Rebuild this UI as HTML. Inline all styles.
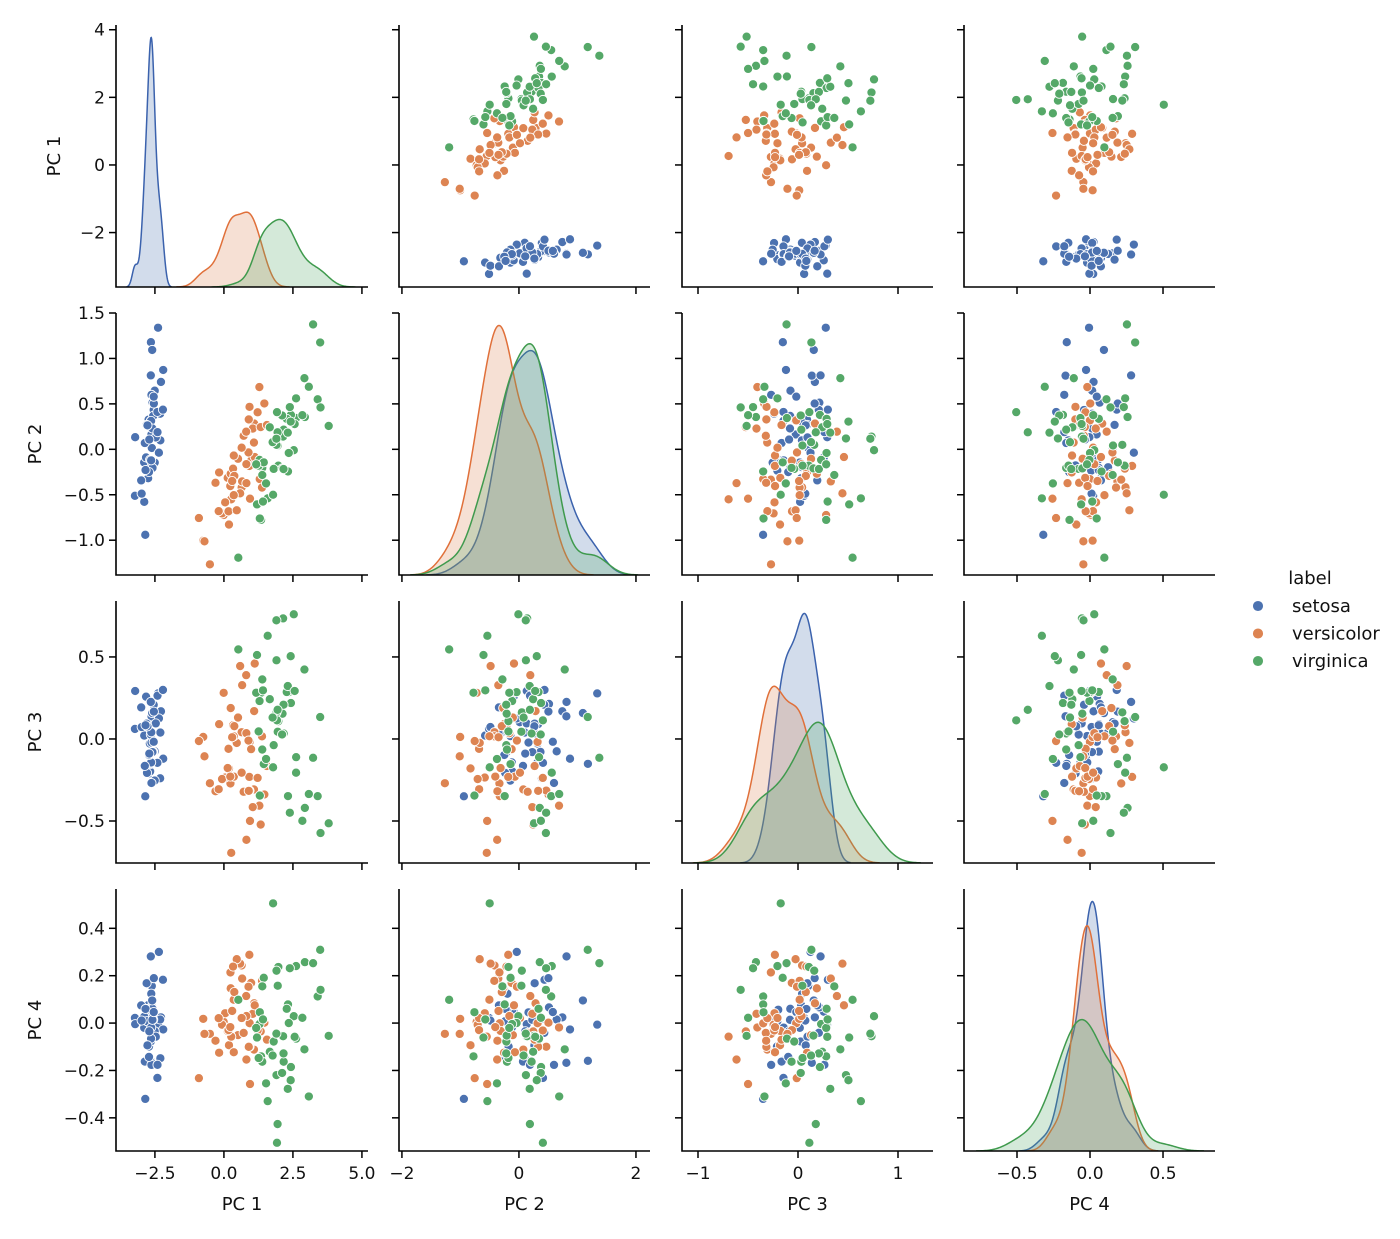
<!DOCTYPE html>
<html><head><meta charset="utf-8"><style>
html,body{margin:0;padding:0;background:#fff}
svg{display:block;font-family:"DejaVu Sans","Liberation Sans",sans-serif}
</style></head><body>
<svg id="fig" width="1400" height="1239" viewBox="0 0 1400 1239" xmlns="http://www.w3.org/2000/svg"></svg>
<script>
// ---- data: iris measurements (sepal length, sepal width, petal length, petal width) ----
const categories = ["setosa","versicolor","virginica"];
const setosaRows = [[5.1,3.5,1.4,0.2],[4.9,3.0,1.4,0.2],[4.7,3.2,1.3,0.2],[4.6,3.1,1.5,0.2],[5.0,3.6,1.4,0.2],[5.4,3.9,1.7,0.4],[4.6,3.4,1.4,0.3],[5.0,3.4,1.5,0.2],[4.4,2.9,1.4,0.2],[4.9,3.1,1.5,0.1],[5.4,3.7,1.5,0.2],[4.8,3.4,1.6,0.2],[4.8,3.0,1.4,0.1],[4.3,3.0,1.1,0.1],[5.8,4.0,1.2,0.2],[5.7,4.4,1.5,0.4],[5.4,3.9,1.3,0.4],[5.1,3.5,1.4,0.3],[5.7,3.8,1.7,0.3],[5.1,3.8,1.5,0.3],[5.4,3.4,1.7,0.2],[5.1,3.7,1.5,0.4],[4.6,3.6,1.0,0.2],[5.1,3.3,1.7,0.5],[4.8,3.4,1.9,0.2],[5.0,3.0,1.6,0.2],[5.0,3.4,1.6,0.4],[5.2,3.5,1.5,0.2],[5.2,3.4,1.4,0.2],[4.7,3.2,1.6,0.2],[4.8,3.1,1.6,0.2],[5.4,3.4,1.5,0.4],[5.2,4.1,1.5,0.1],[5.5,4.2,1.4,0.2],[4.9,3.1,1.5,0.2],[5.0,3.2,1.2,0.2],[5.5,3.5,1.3,0.2],[4.9,3.6,1.4,0.1],[4.4,3.0,1.3,0.2],[5.1,3.4,1.5,0.2],[5.0,3.5,1.3,0.3],[4.5,2.3,1.3,0.3],[4.4,3.2,1.3,0.2],[5.0,3.5,1.6,0.6],[5.1,3.8,1.9,0.4],[4.8,3.0,1.4,0.3],[5.1,3.8,1.6,0.2],[4.6,3.2,1.4,0.2],[5.3,3.7,1.5,0.2],[5.0,3.3,1.4,0.2]];
const versicolorRows = [[7.0,3.2,4.7,1.4],[6.4,3.2,4.5,1.5],[6.9,3.1,4.9,1.5],[5.5,2.3,4.0,1.3],[6.5,2.8,4.6,1.5],[5.7,2.8,4.5,1.3],[6.3,3.3,4.7,1.6],[4.9,2.4,3.3,1.0],[6.6,2.9,4.6,1.3],[5.2,2.7,3.9,1.4],[5.0,2.0,3.5,1.0],[5.9,3.0,4.2,1.5],[6.0,2.2,4.0,1.0],[6.1,2.9,4.7,1.4],[5.6,2.9,3.6,1.3],[6.7,3.1,4.4,1.4],[5.6,3.0,4.5,1.5],[5.8,2.7,4.1,1.0],[6.2,2.2,4.5,1.5],[5.6,2.5,3.9,1.1],[5.9,3.2,4.8,1.8],[6.1,2.8,4.0,1.3],[6.3,2.5,4.9,1.5],[6.1,2.8,4.7,1.2],[6.4,2.9,4.3,1.3],[6.6,3.0,4.4,1.4],[6.8,2.8,4.8,1.4],[6.7,3.0,5.0,1.7],[6.0,2.9,4.5,1.5],[5.7,2.6,3.5,1.0],[5.5,2.4,3.8,1.1],[5.5,2.4,3.7,1.0],[5.8,2.7,3.9,1.2],[6.0,2.7,5.1,1.6],[5.4,3.0,4.5,1.5],[6.0,3.4,4.5,1.6],[6.7,3.1,4.7,1.5],[6.3,2.3,4.4,1.3],[5.6,3.0,4.1,1.3],[5.5,2.5,4.0,1.3],[5.5,2.6,4.4,1.2],[6.1,3.0,4.6,1.4],[5.8,2.6,4.0,1.2],[5.0,2.3,3.3,1.0],[5.6,2.7,4.2,1.3],[5.7,3.0,4.2,1.2],[5.7,2.9,4.2,1.3],[6.2,2.9,4.3,1.3],[5.1,2.5,3.0,1.1],[5.7,2.8,4.1,1.3]];
const virginicaRows = [[6.3,3.3,6.0,2.5],[5.8,2.7,5.1,1.9],[7.1,3.0,5.9,2.1],[6.3,2.9,5.6,1.8],[6.5,3.0,5.8,2.2],[7.6,3.0,6.6,2.1],[4.9,2.5,4.5,1.7],[7.3,2.9,6.3,1.8],[6.7,2.5,5.8,1.8],[7.2,3.6,6.1,2.5],[6.5,3.2,5.1,2.0],[6.4,2.7,5.3,1.9],[6.8,3.0,5.5,2.1],[5.7,2.5,5.0,2.0],[5.8,2.8,5.1,2.4],[6.4,3.2,5.3,2.3],[6.5,3.0,5.5,1.8],[7.7,3.8,6.7,2.2],[7.7,2.6,6.9,2.3],[6.0,2.2,5.0,1.5],[6.9,3.2,5.7,2.3],[5.6,2.8,4.9,2.0],[7.7,2.8,6.7,2.0],[6.3,2.7,4.9,1.8],[6.7,3.3,5.7,2.1],[7.2,3.2,6.0,1.8],[6.2,2.8,4.8,1.8],[6.1,3.0,4.9,1.8],[6.4,2.8,5.6,2.1],[7.2,3.0,5.8,1.6],[7.4,2.8,6.1,1.9],[7.9,3.8,6.4,2.0],[6.4,2.8,5.6,2.2],[6.3,2.8,5.1,1.5],[6.1,2.6,5.6,1.4],[7.7,3.0,6.1,2.3],[6.3,3.4,5.6,2.4],[6.4,3.1,5.5,1.8],[6.0,3.0,4.8,1.8],[6.9,3.1,5.4,2.1],[6.7,3.1,5.6,2.4],[6.9,3.1,5.1,2.3],[5.8,2.7,5.1,1.9],[6.8,3.2,5.9,2.3],[6.7,3.3,5.7,2.5],[6.7,3.0,5.2,2.3],[6.3,2.5,5.0,1.9],[6.5,3.0,5.2,2.0],[6.2,3.4,5.4,2.3],[5.9,3.0,5.1,1.8]];
const varNames = ["PC 1","PC 2","PC 3","PC 4"];
const axisLimits = [[-3.91,5.22],[-2.05,2.24],[-1.16,1.35],[-0.863,0.856]];
const rowLimits = [[-3.61,4.14],[-1.383,1.5],[-0.756,0.841],[-0.540,0.566]];
const xTickValues = [[-2.5,0,2.5,5],[-2,0,2],[-1,0,1],[-0.5,0,0.5]];
const xTickLabels = [["−2.5","0.0","2.5","5.0"],["−2","0","2"],["−1","0","1"],["−0.5","0.0","0.5"]];
const yTickValues = [[-2,0,2,4],[-1,-0.5,0,0.5,1,1.5],[-0.5,0,0.5],[-0.4,-0.2,0,0.2,0.4]];
const yTickLabels = [["−2","0","2","4"],["−1.0","−0.5","0.0","0.5","1.0","1.5"],["−0.5","0.0","0.5"],["−0.4","−0.2","0.0","0.2","0.4"]];
const colors = ["#4c72b0","#dd8452","#55a868"];
const lineColors = ["#3b62ad","#e0703a","#3f9a4d"];

// ---- PCA ----
const groups=[setosaRows,versicolorRows,virginicaRows];
const all=[];groups.forEach((g,gi)=>g.forEach(r=>all.push({r,gi})));
const N=all.length;
const mean=[0,1,2,3].map(j=>all.reduce((s,o)=>s+o.r[j],0)/N);
const C=[0,1,2,3].map(a=>[0,1,2,3].map(b=>all.reduce((s,o)=>s+(o.r[a]-mean[a])*(o.r[b]-mean[b]),0)/(N-1)));
function jacobi(A){const n=A.length;let a=A.map(r=>r.slice());let V=[...Array(n)].map((_,i)=>[...Array(n)].map((_,j)=>i==j?1:0));
for(let sweep=0;sweep<100;sweep++){let off=0;for(let p=0;p<n;p++)for(let q=p+1;q<n;q++)off+=a[p][q]*a[p][q];if(off<1e-22)break;
for(let p=0;p<n;p++)for(let q=p+1;q<n;q++){if(Math.abs(a[p][q])<1e-15)continue;const th=(a[q][q]-a[p][p])/(2*a[p][q]);const t=Math.sign(th||1)/(Math.abs(th)+Math.sqrt(th*th+1));const c=1/Math.sqrt(t*t+1),s=t*c;
for(let k=0;k<n;k++){const akp=a[k][p],akq=a[k][q];a[k][p]=c*akp-s*akq;a[k][q]=s*akp+c*akq;}
for(let k=0;k<n;k++){const apk=a[p][k],aqk=a[q][k];a[p][k]=c*apk-s*aqk;a[q][k]=s*apk+c*aqk;}
for(let k=0;k<n;k++){const vkp=V[k][p],vkq=V[k][q];V[k][p]=c*vkp-s*vkq;V[k][q]=s*vkp+c*vkq;}}}
const ev=[...Array(n)].map((_,i)=>({val:a[i][i],vec:V.map(r=>r[i])}));ev.sort((x,y)=>y.val-x.val);return ev;}
const eig=jacobi(C);
const signRef=[1,1,-1,-1];
const comps=eig.map((e,i)=>{const v=e.vec;return Math.sign(v[0])===signRef[i]?v:v.map(x=>-x);});
const pts=all.map(o=>({gi:o.gi,pc:comps.map(v=>v.reduce((s,c,j)=>s+c*(o.r[j]-mean[j]),0))}));

// ---- drawing ----
const svg=document.getElementById('fig');const NS="http://www.w3.org/2000/svg";
function el(tag,attrs,parent){const e=document.createElementNS(NS,tag);for(const k in attrs)e.setAttribute(k,attrs[k]);(parent||svg).appendChild(e);return e;}
const colX=[[116,368],[399,650],[682,933],[964,1215]];
const rowY=[[25,287],[313,575],[601,863],[889,1151]];
function sx(c,v){const [a,b]=axisLimits[c];return colX[c][0]+(v-a)/(b-a)*(colX[c][1]-colX[c][0]);}
function sy(r,v){const [a,b]=rowLimits[r];return rowY[r][1]-(v-a)/(b-a)*(rowY[r][1]-rowY[r][0]);}
const defs=el('defs',{});
function kde(vals,bw,x){let s=0;for(const v of vals){const z=(x-v)/bw;s+=Math.exp(-0.5*z*z);}return s/(vals.length*bw*Math.sqrt(2*Math.PI));}

for(let r=0;r<4;r++)for(let c=0;c<4;c++){
  const g=el('g',{});
  
  
  const cp=el('clipPath',{id:`cp${r}${c}`},defs);
  el('rect',{x:colX[c][0],y:rowY[r][0]-1,width:colX[c][1]-colX[c][0],height:rowY[r][1]-rowY[r][0]+1},cp);
  const plot=el('g',{'clip-path':`url(#cp${r}${c})`},g);
  if(r===c){
    const dens=[];let ymax=0;
    groups.forEach((gr,gi)=>{
      const vals=pts.filter(p=>p.gi===gi).map(p=>p.pc[c]);
      const m=vals.reduce((a,b)=>a+b,0)/vals.length;
      const sd=Math.sqrt(vals.reduce((a,b)=>a+(b-m)*(b-m),0)/(vals.length-1));
      const bw=sd*Math.pow(vals.length,-0.2);
      const lo=Math.min(...vals)-3*bw,hi=Math.max(...vals)+3*bw;
      const xs=[],ys=[];
      for(let i=0;i<200;i++){const x=lo+(hi-lo)*i/199;xs.push(x);const y=kde(vals,bw,x)*vals.length/N;ys.push(y);if(y>ymax)ymax=y;}
      dens.push({gi,xs,ys});
    });
    const top=ymax*1.05;const y0=rowY[r][1],h=rowY[r][1]-rowY[r][0];
    dens.forEach(d=>{
      let line=d.xs.map((x,i)=>`${i?'L':'M'}${sx(c,x).toFixed(2)},${(y0-d.ys[i]/top*h).toFixed(2)}`).join('');
      const fill=el('path',{d:line+`L${sx(c,d.xs[199]).toFixed(2)},${y0}L${sx(c,d.xs[0]).toFixed(2)},${y0}Z`,fill:colors[d.gi],'fill-opacity':0.25,stroke:'none'},plot);
      
      
      const ln=el('path',{d:line,fill:'none',stroke:lineColors[d.gi],'stroke-width':1.5},plot);
      
      
    });
  } else {
    pts.forEach(p=>{
      const ci=el('circle',{cx:sx(c,p.pc[c]).toFixed(2),cy:sy(r,p.pc[r]).toFixed(2),r:4.6,fill:colors[p.gi],stroke:'#fff','stroke-width':0.9},plot);
      
      
    });
  }
  el('path',{d:`M${colX[c][0]},${rowY[r][0]}V${rowY[r][1]}H${colX[c][1]}`,fill:'none',stroke:'#000','stroke-width':1.6},g);
  xTickValues[c].forEach((v,i)=>{const x=sx(c,v);el('line',{x1:x,x2:x,y1:rowY[r][1],y2:rowY[r][1]+7,stroke:'#000','stroke-width':1.5},g);
    if(r===3){const t=el('text',{x:x,y:rowY[r][1]+28,'text-anchor':'middle','font-size':17,fill:'#111'},g);t.textContent=xTickLabels[c][i];
      }});
  yTickValues[r].forEach((v,i)=>{const y=sy(r,v);el('line',{x1:colX[c][0]-7,x2:colX[c][0],y1:y,y2:y,stroke:'#000','stroke-width':1.5},g);
    if(c===0){const t=el('text',{x:colX[c][0]-11,y:y+6,'text-anchor':'end','font-size':17,fill:'#111'},g);t.textContent=yTickLabels[r][i];
      }});
}
for(let c=0;c<4;c++){const t=el('text',{x:(colX[c][0]+colX[c][1])/2,y:1210,'text-anchor':'middle','font-size':18,fill:'#111'});t.textContent=varNames[c];
  }
const ylx=[60,41,41,41];
for(let r=0;r<4;r++){const cy=(rowY[r][0]+rowY[r][1])/2;const t=el('text',{x:ylx[r],y:cy,'text-anchor':'middle','font-size':18,fill:'#111',transform:`rotate(-90 ${ylx[r]} ${cy})`});t.textContent=varNames[r];
  }
const lg=el('g',{});


const lt=el('text',{x:1310,y:584,'text-anchor':'middle','font-size':18,fill:'#111'},lg);lt.textContent='label';

categories.forEach((cat,i)=>{const y=606+i*27.5;
  const e=el('g',{},lg);
  
  
  el('circle',{cx:1258,cy:y,r:5.5,fill:colors[i],stroke:'#fff','stroke-width':0.9},e);
  const t=el('text',{x:1292,y:y+6,'font-size':18,fill:'#111'},e);t.textContent=cat;});
</script>
</body></html>
